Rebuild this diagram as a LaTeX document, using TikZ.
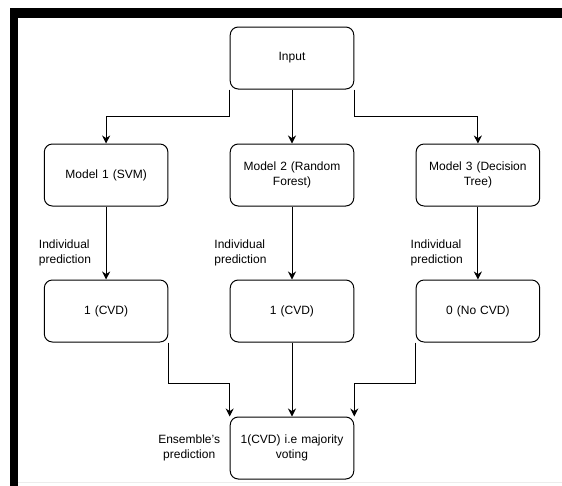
\documentclass[tikz,border=0pt]{standalone}
\usepackage{fontspec}
\setmainfont{Liberation Sans}
\usepackage{tikz}
\usetikzlibrary{shapes,arrows.meta,positioning}
\hyphenpenalty=10000
\exhyphenpenalty=10000

\begin{document}
\begin{tikzpicture}[
    font=\fontsize{9pt}{11.25pt}\selectfont,
    box/.style={rectangle, rounded corners=6pt, text centered, draw, line width=0.75pt, minimum height=46.5pt, minimum width=92.25pt, text width=86pt},
    note/.style={inner sep=0pt},
    arr/.style={-{Stealth[length=6pt,width=6pt]}, line width=0.75pt}
]
    \useasboundingbox (0,0) rectangle (421.5pt,-364.5pt);
    % frame
    \fill[white] (0,0) rectangle (421.5pt,-364.5pt);
    \fill[black] (7.5pt,-6pt) rectangle (421.5pt,-13.5pt);
    \fill[black] (7.5pt,-6pt) rectangle (13.5pt,-364.5pt);
    \draw[gray!15, line width=0.75pt] (13.5pt,-361.5pt) -- (421.5pt,-361.5pt);

    \node (input) [box] at (219pt,-43.5pt) {Input};
    \node (m2) [box, below=40.5pt of input] {Model 2 (Random \\ Forest)};
    \node (m1) [box, left=46pt of m2] {Model 1 (SVM)};
    \node (m3) [box, right=46pt of m2] {Model 3 (Decision \\ Tree)};
    \node (r1) [box, below=54.75pt of m1] {1 (CVD)};
    \node (r2) [box, below=54.75pt of m2] {1 (CVD)};
    \node (r3) [box, below=54.75pt of m3] {0 (No CVD)};
    \node (final) [box, below=55.5pt of r2] {1(CVD) i.e majority \\ voting};
    \node (ens) [note, left=7pt of final, align=center] {Ensemble's\\prediction};

    \draw [arr] (input.south west) -- ++(0,-20.25pt) -| (m1);
    \draw [arr] (input) -- (m2);
    \draw [arr] (input.south east) -- ++(0,-20.25pt) -| (m3);

    \draw [arr] (m1) -- node[note, align=left, left=11pt, pos=0.64] {Individual\\prediction} (r1);
    \draw [arr] (m2) -- node[note, align=left, left=18.75pt, pos=0.64] {Individual\\prediction} (r2);
    \draw [arr] (m3) -- node[note, align=left, left=11pt, pos=0.64] {Individual\\prediction} (r3);

    \draw [arr] (r1.south east) -- ++(0,-30.75pt) -| (final.north west);
    \draw [arr] (r2) -- (final);
    \draw [arr] (r3.south west) -- ++(0,-30.75pt) -| (final.north east);
\end{tikzpicture}
\end{document}
